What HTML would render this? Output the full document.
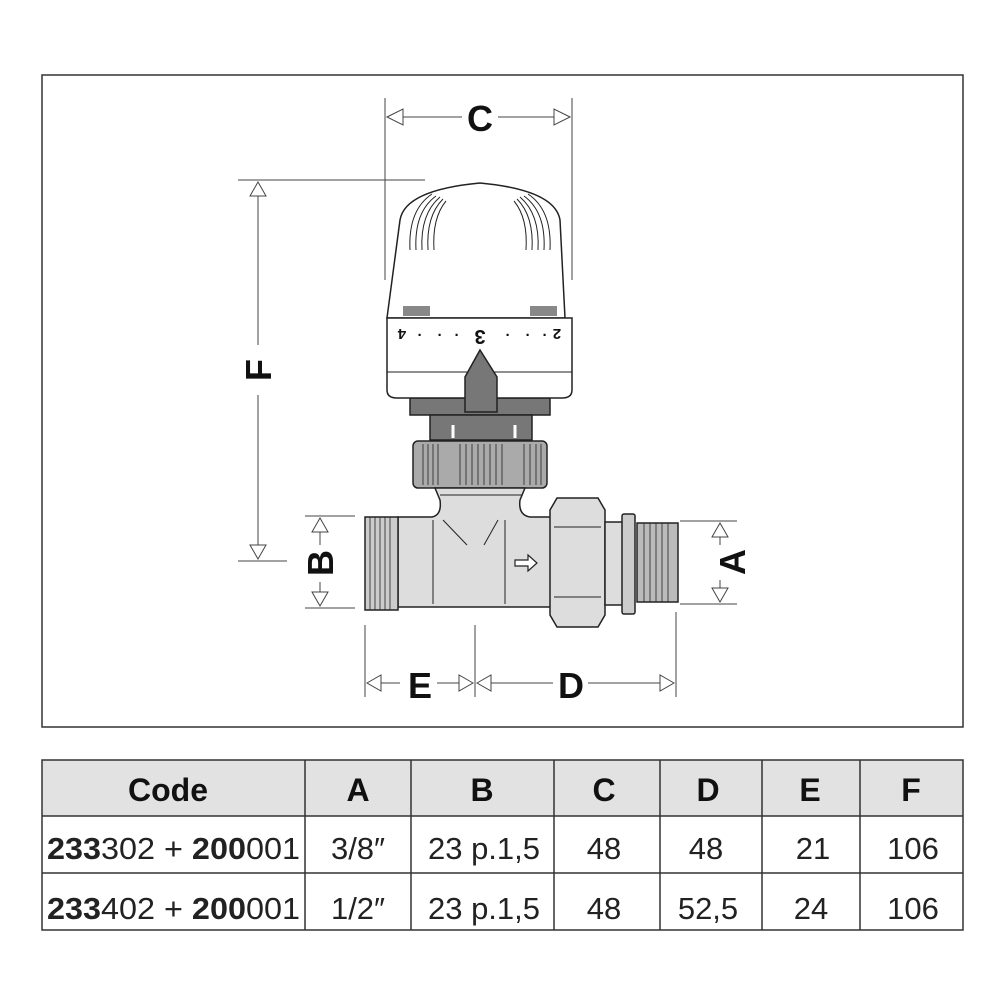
<!DOCTYPE html>
<html><head><meta charset="utf-8"><style>
body{margin:0;background:#fff;}
svg{display:block;}
text{font-family:"Liberation Sans",sans-serif;}
</style></head><body>
<svg width="1000" height="1000" viewBox="0 0 1000 1000" xmlns="http://www.w3.org/2000/svg">
<rect x="42" y="75" width="921" height="652" fill="#fff" stroke="#333" stroke-width="1.5"/>
<g stroke="#444" stroke-width="1" fill="none">
<line x1="385" y1="98" x2="385" y2="280"/><line x1="572" y1="98" x2="572" y2="280"/>
<line x1="387" y1="117" x2="462" y2="117"/><line x1="498" y1="117" x2="570" y2="117"/>
<polygon points="387,117 403,109 403,125" fill="#fff"/><polygon points="570,117 554,109 554,125" fill="#fff"/>
<line x1="238" y1="180" x2="425" y2="180"/><line x1="238" y1="561" x2="287" y2="561"/>
<line x1="258" y1="182" x2="258" y2="345"/><line x1="258" y1="395" x2="258" y2="559"/>
<polygon points="258,182 250,196 266,196" fill="#fff"/><polygon points="258,559 250,545 266,545" fill="#fff"/>
<line x1="305" y1="516" x2="355" y2="516"/><line x1="305" y1="608" x2="355" y2="608"/>
<line x1="320" y1="518" x2="320" y2="545"/><line x1="320" y1="582" x2="320" y2="606"/>
<polygon points="320,518 312,532 328,532" fill="#fff"/><polygon points="320,606 312,592 328,592" fill="#fff"/>
<line x1="680" y1="521" x2="737" y2="521"/><line x1="680" y1="604" x2="737" y2="604"/>
<line x1="720" y1="523" x2="720" y2="545"/><line x1="720" y1="580" x2="720" y2="602"/>
<polygon points="720,523 712,537 728,537" fill="#fff"/><polygon points="720,602 712,588 728,588" fill="#fff"/>
<line x1="365" y1="625" x2="365" y2="697"/><line x1="475" y1="625" x2="475" y2="697"/><line x1="676" y1="612" x2="676" y2="697"/>
<line x1="367" y1="683" x2="400" y2="683"/><line x1="437" y1="683" x2="473" y2="683"/>
<line x1="477" y1="683" x2="553" y2="683"/><line x1="588" y1="683" x2="674" y2="683"/>
<polygon points="367,683 381,675 381,691" fill="#fff"/><polygon points="473,683 459,675 459,691" fill="#fff"/>
<polygon points="477,683 491,675 491,691" fill="#fff"/><polygon points="674,683 660,675 660,691" fill="#fff"/>
</g>
<g font-weight="bold" font-size="36" fill="#111" text-anchor="middle">
<text x="480" y="131">C</text>
<text x="420" y="698">E</text>
<text x="571" y="698">D</text>
<text transform="translate(271,370) rotate(-90)">F</text>
<text transform="translate(333,563) rotate(-90)">B</text>
<text transform="translate(745,562) rotate(-90)">A</text>
</g>
<g stroke="#222" stroke-width="1.5">
<path d="M410,398 H550 V415 H410 Z" fill="#777"/>
<path d="M430,415 H532 V440 H430 Z" fill="#777"/>
<line x1="453" y1="425" x2="453" y2="438" stroke="#fff" stroke-width="3"/>
<line x1="515" y1="425" x2="515" y2="438" stroke="#fff" stroke-width="3"/>
<path d="M400,220 Q405,190 480,183 Q555,190 560,220 L565,318 H387 Z" fill="#fff"/>
<path d="M387,318 H572 V390 Q572,398 562,398 H397 Q387,398 387,390 Z" fill="#fff"/>
<line x1="387" y1="372" x2="572" y2="372" stroke-width="1"/>
<rect x="403" y="306" width="27" height="10" fill="#888" stroke="none"/>
<rect x="530" y="306" width="27" height="10" fill="#888" stroke="none"/>
<g stroke-width="1" fill="none">
<path d="M410,250 Q408,210 432,194"/><path d="M416,250 Q414,212 436,196"/><path d="M422,250 Q420,214 440,197"/><path d="M428,250 Q426,216 443,199"/><path d="M434,250 Q432,218 446,201"/>
<path d="M550,250 Q552,210 528,194"/><path d="M544,250 Q546,212 524,196"/><path d="M538,250 Q540,214 520,197"/><path d="M532,250 Q534,216 517,199"/><path d="M526,250 Q528,218 514,201"/>
</g>
<path d="M480,350 L497,377 V412 H465 V377 Z" fill="#777"/>
<rect x="413" y="441" width="134" height="47" rx="5" fill="#aaa"/>
<g stroke-width="0.8">
<line x1="423" y1="444" x2="423" y2="485"/><line x1="428" y1="444" x2="428" y2="485"/><line x1="433" y1="444" x2="433" y2="485"/><line x1="438" y1="444" x2="438" y2="485"/>
<line x1="460" y1="444" x2="460" y2="485"/><line x1="466" y1="444" x2="466" y2="485"/><line x1="472" y1="444" x2="472" y2="485"/><line x1="478" y1="444" x2="478" y2="485"/><line x1="484" y1="444" x2="484" y2="485"/><line x1="490" y1="444" x2="490" y2="485"/><line x1="496" y1="444" x2="496" y2="485"/><line x1="502" y1="444" x2="502" y2="485"/>
<line x1="524" y1="444" x2="524" y2="485"/><line x1="530" y1="444" x2="530" y2="485"/><line x1="536" y1="444" x2="536" y2="485"/><line x1="541" y1="444" x2="541" y2="485"/>
</g>
<path d="M435,488 H525 L520,500 Q518,515 530,517 H552 V607 H398 V517 H432 Q442,515 440,500 Z" fill="#ddd"/>
<line x1="440" y1="495" x2="522" y2="495" stroke-width="1"/>
<line x1="443" y1="520" x2="467" y2="545" stroke-width="1"/><line x1="498" y1="520" x2="484" y2="545" stroke-width="1"/>
<line x1="433" y1="520" x2="433" y2="604" stroke-width="1"/><line x1="505" y1="520" x2="505" y2="604" stroke-width="1"/>
<path d="M515,560 H528 V555 L537,563 L528,571 V566 H515 Z" fill="#fff" stroke-width="1.2"/>
<rect x="365" y="517" width="33" height="93" fill="#ccc"/>
<g stroke-width="0.8"><line x1="370" y1="517" x2="370" y2="610"/><line x1="375" y1="517" x2="375" y2="610"/><line x1="380" y1="517" x2="380" y2="610"/><line x1="385" y1="517" x2="385" y2="610"/><line x1="390" y1="517" x2="390" y2="610"/></g>
<path d="M557,498 H598 L605,510 V615 L598,627 H557 L550,615 V510 Z" fill="#ddd"/>
<line x1="554" y1="527" x2="601" y2="527" stroke-width="1"/><line x1="554" y1="597" x2="601" y2="597" stroke-width="1"/>
<rect x="605" y="522" width="18" height="83" fill="#ddd"/>
<rect x="622" y="514" width="13" height="100" rx="2" fill="#ccc"/>
<rect x="637" y="523" width="41" height="79" fill="#bbb"/>
<g stroke-width="0.8"><line x1="644" y1="523" x2="644" y2="602"/><line x1="650" y1="523" x2="650" y2="602"/><line x1="656" y1="523" x2="656" y2="602"/><line x1="662" y1="523" x2="662" y2="602"/><line x1="668" y1="523" x2="668" y2="602"/></g>
</g>
<g font-size="15" font-weight="bold" fill="#111" text-anchor="middle">
<text transform="translate(480,330) rotate(180)" font-size="20">3</text>
<text transform="translate(402,329) rotate(180)">4</text>
<text transform="translate(557,329) rotate(180)">2</text>
<text x="420" y="340">·</text><text x="440" y="340">·</text><text x="457" y="340">·</text>
<text x="508" y="340">·</text><text x="528" y="340">·</text><text x="545" y="340">·</text>
</g>
<rect x="42" y="760" width="921" height="56" fill="#e2e2e2"/>
<g stroke="#333" stroke-width="1.5" fill="none">
<rect x="42" y="760" width="921" height="170"/>
<line x1="42" y1="816" x2="963" y2="816"/><line x1="42" y1="873" x2="963" y2="873"/>
<line x1="305" y1="760" x2="305" y2="930"/><line x1="411" y1="760" x2="411" y2="930"/><line x1="554" y1="760" x2="554" y2="930"/>
<line x1="660" y1="760" x2="660" y2="930"/><line x1="762" y1="760" x2="762" y2="930"/><line x1="860" y1="760" x2="860" y2="930"/>
</g>
<g font-size="32" font-weight="bold" fill="#111" text-anchor="middle">
<text x="168" y="801">Code</text><text x="358" y="801">A</text><text x="482" y="801">B</text>
<text x="604" y="801">C</text><text x="708" y="801">D</text><text x="810" y="801">E</text><text x="911" y="801">F</text>
</g>
<g font-size="31" fill="#222">
<text x="47" y="859" textLength="253" lengthAdjust="spacingAndGlyphs"><tspan font-weight="bold">233</tspan>302 + <tspan font-weight="bold">200</tspan>001</text>
<text x="47" y="919" textLength="253" lengthAdjust="spacingAndGlyphs"><tspan font-weight="bold">233</tspan>402 + <tspan font-weight="bold">200</tspan>001</text>
<g text-anchor="middle">
<text x="358" y="859">3/8″</text><text x="484" y="859">23 p.1,5</text><text x="604" y="859">48</text><text x="706" y="859">48</text><text x="813" y="859">21</text><text x="913" y="859">106</text>
<text x="358" y="919">1/2″</text><text x="484" y="919">23 p.1,5</text><text x="604" y="919">48</text><text x="708" y="919">52,5</text><text x="811" y="919">24</text><text x="913" y="919">106</text>
</g></g>
</svg>
</body></html>
